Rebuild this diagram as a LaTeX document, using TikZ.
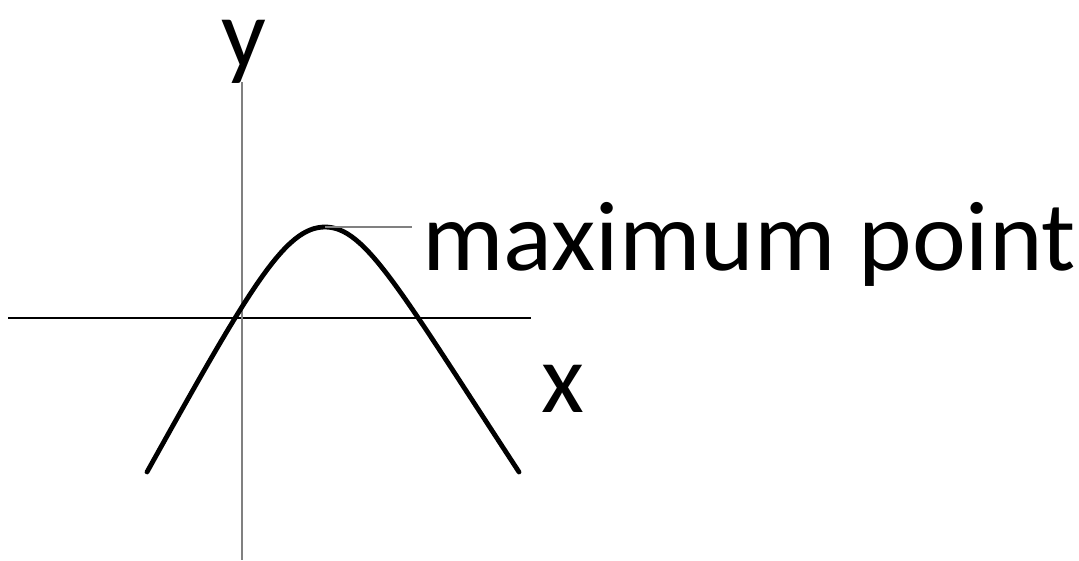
\documentclass[tikz,border=0pt]{standalone}
\usepackage{fontspec}
\setmainfont{Carlito}
\begin{document}
\begin{tikzpicture}[x=1pt,y=-1pt,
  axis/.style={line width=1.2pt,black},
  vaxis/.style={line width=1.2pt,gray},
  curve/.style={line width=4.8pt,black,line cap=round},
  lbl/.style={anchor=base west,inner sep=0pt,font=\fontsize{99}{110}\selectfont}]
\useasboundingbox (0,0) rectangle (1079,560);
\coordinate (hl) at (8,318);
\coordinate (hr) at (531,318);
\coordinate (vt) at (242,82);
\coordinate (vb) at (242,560);
\coordinate (p0) at (147,472);
\coordinate (pk) at (325,227);
\coordinate (p1) at (519,472);
\coordinate (pe) at (412,227);
\draw[axis] (hl) -- (hr);
\draw[vaxis] (vt) -- (vb);
\draw[curve] (p0) .. controls (250,287) and (285,227) .. (pk)
  .. controls (365,227) and (398,287) .. (p1);
\draw[vaxis] (pk) -- (pe);
\node[lbl,text height=50pt] (ylab) at (221,67) {y};
\node[lbl] (xlab) at (541,412) {x};
\node[lbl,xscale=1.03] (mlab) at (422,270) {maximum point};
\end{tikzpicture}
\end{document}
